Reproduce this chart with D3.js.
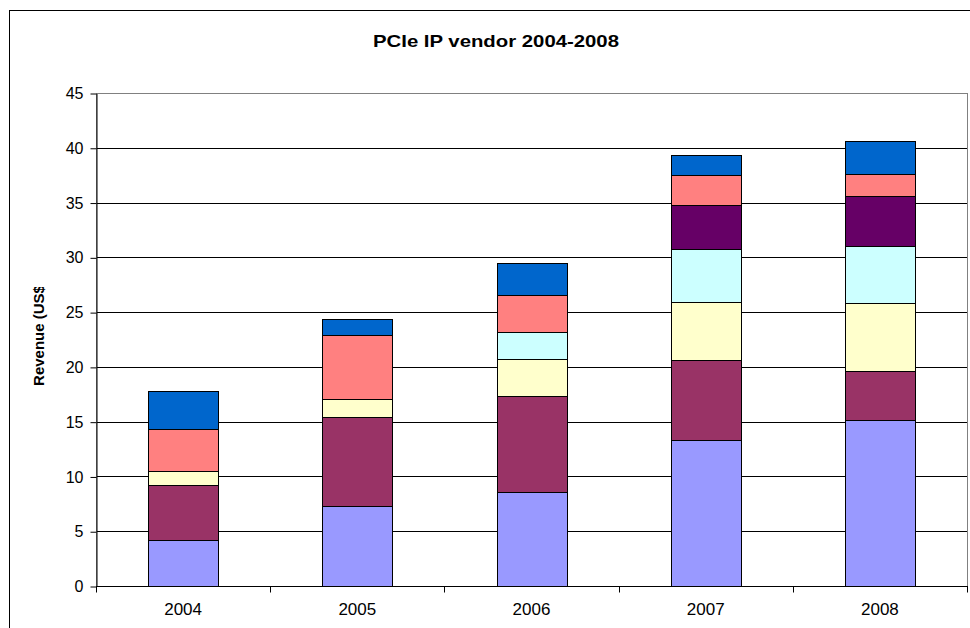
<!DOCTYPE html>
<html lang="en">
<head>
  <meta charset="UTF-8" />
  <title>PCIe IP vendor 2004-2008</title>
  <style>
    body { margin: 0; background: #fff; font-family: "Liberation Sans", Arial, sans-serif; }
    svg { display: block; }
    .tick text { font-size: 16px; fill: #000; }
  </style>
</head>
<body>
  <div id="chart"></div>
  <script src="https://cdn.jsdelivr.net/npm/d3@7"></script>
  <script>
    // values, bottom segment first
    const years = ["2004", "2005", "2006", "2007", "2008"];
    const seriesNames = ["Vendor A", "Vendor B", "Vendor C", "Vendor D", "Vendor E", "Vendor F", "Vendor G"];
    const seriesColors = ["#9999FF", "#993366", "#FFFFCC", "#CCFFFF", "#660066", "#FF8080", "#0066CC"];
    const vendorA = [4.2, 7.3, 8.6, 13.3, 15.15];
    const vendorB = [5.0, 8.1, 8.7, 7.3, 4.5];
    const vendorC = [1.3, 1.7, 3.45, 5.3, 6.15];
    const vendorD = [0, 0, 2.45, 4.9, 5.2];
    const vendorE = [0, 0, 0, 4.0, 4.6];
    const vendorF = [3.8, 5.8, 3.4, 2.7, 2.0];
    const vendorG = [3.5, 1.5, 2.9, 1.8, 3.0];
    const yTicks = [0, 5, 10, 15, 20, 25, 30, 35, 40, 45];

    const seriesValues = [vendorA, vendorB, vendorC, vendorD, vendorE, vendorF, vendorG];
    const rows = years.map((y, i) => {
      const r = { year: y };
      seriesNames.forEach((n, k) => r[n] = seriesValues[k][i]);
      return r;
    });

    const W = 970, H = 628;
    const plot = { left: 96, right: 967, top: 93, bottom: 586 };

    const svg = d3.select("#chart").append("svg")
      .attr("width", W).attr("height", H);

    // outer chart frame (runs off the right and bottom edges)
    svg.append("rect")
      .attr("x", 9.5).attr("y", 10.5)
      .attr("width", 1000).attr("height", 700)
      .attr("fill", "none").attr("stroke", "#000");

    const x = d3.scaleBand()
      .domain(years)
      .range([plot.left, plot.right])
      .paddingInner(0.6)
      .paddingOuter(0.3);

    const y = d3.scaleLinear()
      .domain([0, 45])
      .range([plot.bottom, plot.top]);

    // gridlines
    svg.append("g")
      .selectAll("line")
      .data(yTicks.slice(1))
      .join("line")
      .attr("x1", plot.left).attr("x2", plot.right)
      .attr("y1", d => Math.round(y(d)) + 0.5)
      .attr("y2", d => Math.round(y(d)) + 0.5)
      .attr("stroke", "#000");

    // plot area border
    svg.append("rect")
      .attr("x", plot.left + 0.5).attr("y", plot.top + 0.5)
      .attr("width", plot.right - plot.left).attr("height", plot.bottom - plot.top)
      .attr("fill", "none").attr("stroke", "#808080");

    const stack = d3.stack().keys(seriesNames);
    const layers = stack(rows);

    svg.append("g")
      .selectAll("g")
      .data(layers)
      .join("g")
      .attr("fill", (d, i) => seriesColors[i])
      .selectAll("rect")
      .data(d => d.filter(s => s[1] - s[0] > 0))
      .join("rect")
      .attr("x", d => Math.round(x(d.data.year)) + 0.5)
      .attr("width", Math.round(x.bandwidth()))
      .attr("y", d => Math.round(y(d[1])) + 0.5)
      .attr("height", d => Math.round(y(d[0])) - Math.round(y(d[1])))
      .attr("stroke", "#000")
      .attr("stroke-width", 1);

    // y axis
    const yAxis = svg.append("g")
      .attr("transform", `translate(${plot.left + 0.5},0.5)`)
      .call(d3.axisLeft(y).tickValues(yTicks).tickSize(6).tickPadding(7).tickSizeOuter(0));
    yAxis.select(".domain").attr("stroke", "#000");
    yAxis.selectAll(".tick line").attr("stroke", "#000");
    yAxis.selectAll(".tick text")
      .attr("font-family", "Liberation Sans, Arial, sans-serif")
      .attr("font-size", 17);

    // x axis: ticks sit on the category boundaries
    const xAxisG = svg.append("g")
      .attr("transform", `translate(0,${plot.bottom + 0.5})`);
    xAxisG.append("line")
      .attr("x1", plot.left).attr("x2", plot.right + 1)
      .attr("stroke", "#000");
    const step = x.step();
    const bounds = d3.range(years.length + 1).map(i => x(years[0]) - x.step() * x.paddingOuter() + i * step);
    xAxisG.selectAll("line.b")
      .data(bounds)
      .join("line")
      .attr("class", "b")
      .attr("x1", d => Math.round(d) + 0.5).attr("x2", d => Math.round(d) + 0.5)
      .attr("y1", 0).attr("y2", 6)
      .attr("stroke", "#000");
    xAxisG.selectAll("text")
      .data(years)
      .join("text")
      .attr("x", d => x(d) + x.bandwidth() / 2)
      .attr("y", 28)
      .attr("text-anchor", "middle")
      .attr("font-size", 17)
      .text(d => d);

    // title
    svg.append("text")
      .attr("x", 496).attr("y", 47)
      .attr("text-anchor", "middle")
      .attr("font-size", 17)
      .attr("font-weight", "bold")
      .attr("textLength", 246)
      .attr("lengthAdjust", "spacingAndGlyphs")
      .text("PCIe IP vendor 2004-2008");

    // y axis label, clipped at the top like the original
    svg.append("clipPath").attr("id", "ylabclip")
      .append("rect").attr("x", 0).attr("y", 287).attr("width", 90).attr("height", 200);
    svg.append("g").attr("clip-path", "url(#ylabclip)")
      .append("text")
      .attr("transform", "translate(44,333) rotate(-90)")
      .attr("text-anchor", "middle")
      .attr("font-size", 15)
      .attr("font-weight", "bold")
      .text("Revenue (US$)");
  </script>
</body>
</html>
